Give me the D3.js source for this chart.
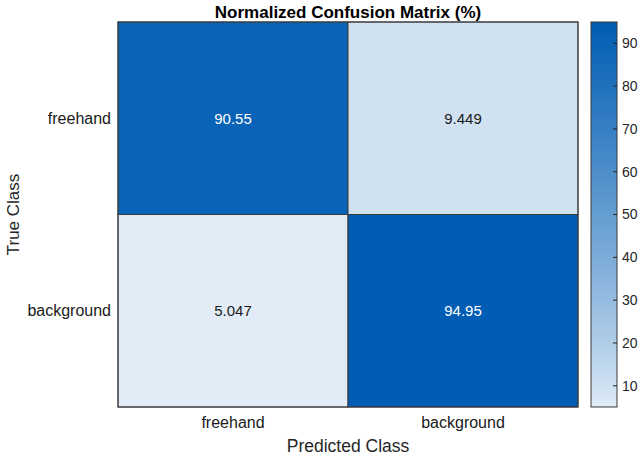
<!DOCTYPE html>
<html><head><meta charset="utf-8">
<script src="https://cdn.jsdelivr.net/npm/d3@7"></script>
<style>body{margin:0;background:#fff;}svg{display:block;font-family:"Liberation Sans",Arial,sans-serif;}</style>
</head><body><div id="chart"></div>
<script>
const trueClasses = ["freehand", "background"];
const predClasses = ["freehand", "background"];
const values = [[90.55, 9.449], [5.047, 94.95]];
const labels = [["90.55", "9.449"], ["5.047", "94.95"]];
const colorbarTicks = [10, 20, 30, 40, 50, 60, 70, 80, 90];
const title = "Normalized Confusion Matrix (%)";

const W = 644, H = 456;
const m = {left: 118, top: 22, right: 578, bottom: 407};
const cb = {x0: 591, x1: 617};
const svg = d3.select("#chart").append("svg").attr("width", W).attr("height", H);

const x = d3.scaleBand().domain(predClasses).range([m.left, m.right]);
const y = d3.scaleBand().domain(trueClasses).range([m.top, m.bottom]);
const flat = values.flat();
const vmin = d3.min(flat), vmax = d3.max(flat);
const color = d3.scaleLinear().domain([vmin, vmax]).range(["#e1ecf7", "#005db3"])
  .interpolate((a, b) => { const i = d3.interpolateRgb(a, b); return t => i(Math.pow(t, 0.85)); });

const cells = [];
trueClasses.forEach((t, i) => predClasses.forEach((p, j) => cells.push({t, p, v: values[i][j], s: labels[i][j]})));

svg.selectAll("rect.cell").data(cells).enter().append("rect").attr("class", "cell")
  .attr("x", d => x(d.p)).attr("y", d => y(d.t))
  .attr("width", x.bandwidth()).attr("height", y.bandwidth())
  .attr("fill", d => color(d.v)).attr("stroke", "#3a3a3a").attr("stroke-width", 1);

svg.selectAll("text.val").data(cells).enter().append("text").attr("class", "val")
  .attr("x", d => x(d.p) + x.bandwidth() / 2).attr("y", d => y(d.t) + y.bandwidth() / 2)
  .attr("text-anchor", "middle").attr("dy", "0.35em").attr("font-size", 15)
  .attr("fill", d => d.v > 50 ? "#ffffff" : "#1a1a1a").text(d => d.s);

svg.append("rect").attr("x", m.left).attr("y", m.top).attr("width", m.right - m.left).attr("height", m.bottom - m.top)
  .attr("fill", "none").attr("stroke", "#3a3a3a").attr("stroke-width", 1);

// tick labels
svg.selectAll("text.yl").data(trueClasses).enter().append("text").attr("class", "yl")
  .attr("x", 111).attr("y", d => y(d) + y.bandwidth() / 2).attr("dy", "0.35em")
  .attr("text-anchor", "end").attr("font-size", 16).attr("fill", "#1a1a1a").text(d => d);
svg.selectAll("text.xl").data(predClasses).enter().append("text").attr("class", "xl")
  .attr("x", d => x(d) + x.bandwidth() / 2).attr("y", 428)
  .attr("text-anchor", "middle").attr("font-size", 16).attr("fill", "#1a1a1a").text(d => d);

svg.append("text").attr("x", (m.left + m.right) / 2).attr("y", 452).attr("text-anchor", "middle")
  .attr("font-size", 17.5).attr("fill", "#262626").text("Predicted Class");
svg.append("text").attr("transform", `translate(19,${(m.top + m.bottom) / 2}) rotate(-90)`).attr("text-anchor", "middle")
  .attr("font-size", 17).attr("fill", "#262626").text("True Class");
svg.append("text").attr("x", (m.left + m.right) / 2).attr("y", 18).attr("text-anchor", "middle")
  .attr("font-size", 17).attr("font-weight", "bold").attr("fill", "#000").text(title);

// colorbar
const cy = d3.scaleLinear().domain([vmin, vmax]).range([m.bottom, m.top]);
const defs = svg.append("defs");
const grad = defs.append("linearGradient").attr("id", "cbg").attr("x1", 0).attr("y1", 1).attr("x2", 0).attr("y2", 0);
d3.range(0, 1.0001, 0.05).forEach(t => grad.append("stop").attr("offset", t).attr("stop-color", color(vmin + t * (vmax - vmin))));
svg.append("rect").attr("x", cb.x0).attr("y", m.top).attr("width", cb.x1 - cb.x0).attr("height", m.bottom - m.top)
  .attr("fill", "url(#cbg)").attr("stroke", "#3a3a3a").attr("stroke-width", 1);
const g = svg.append("g");
colorbarTicks.forEach(v => {
  g.append("line").attr("x1", cb.x1 - 4).attr("x2", cb.x1).attr("y1", cy(v)).attr("y2", cy(v)).attr("stroke", "#262626");
  g.append("text").attr("x", cb.x1 + 5).attr("y", cy(v)).attr("dy", "0.35em").attr("font-size", 14)
    .attr("fill", "#262626").text(v);
});
</script></body></html>
